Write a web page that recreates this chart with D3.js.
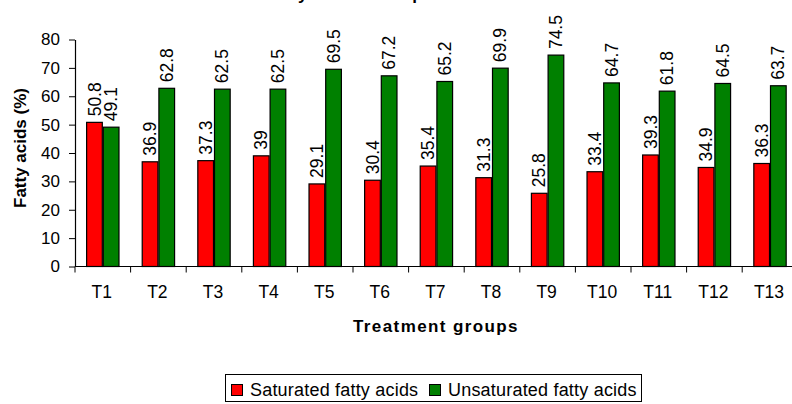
<!DOCTYPE html>
<html>
<head>
<meta charset="utf-8">
<script src="https://cdn.jsdelivr.net/npm/d3@7"></script>
<style>
  html, body { margin: 0; padding: 0; background: #fff; }
  svg { display: block; font-family: "Liberation Sans", Arial, sans-serif; }
</style>
</head>
<body>
<script>
const categories = ["T1","T2","T3","T4","T5","T6","T7","T8","T9","T10","T11","T12","T13"];
const saturated = [50.8,36.9,37.3,39,29.1,30.4,35.4,31.3,25.8,33.4,39.3,34.9,36.3];
const unsaturated = [49.1,62.8,62.5,62.5,69.5,67.2,65.2,69.9,74.5,64.7,61.8,64.5,63.7];
const seriesNames = ["Saturated fatty acids","Unsaturated fatty acids"];
const seriesColors = ["#ff0000","#008000"];
const yTicks = [0,10,20,30,40,50,60,70,80];
const titleText = "Fatty acids in rump of buffalo meat";

const W = 792, H = 404;
const svg = d3.select("body").append("svg").attr("width", W).attr("height", H);

const x0 = d3.scaleBand().domain(categories).range([75, 75 + 13 * 55.6]).padding(0);
const bw = x0.bandwidth();
const x1 = d3.scaleBand().domain(seriesNames).range([bw * 0.2, bw * 0.8]).padding(0);
const y = d3.scaleLinear().domain([0, 80]).range([266.5, 39.5]);

// title (clipped at top, as in the reference)
svg.append("text").attr("x", 408).attr("y", -0.5).attr("text-anchor", "middle")
  .attr("font-size", 17).attr("font-weight", "bold").text(titleText);

const data = categories.map((c, i) => ({cat: c, vals: [saturated[i], unsaturated[i]]}));

const groups = svg.append("g").selectAll("g").data(data).join("g")
  .attr("transform", d => `translate(${x0(d.cat)},0)`);

groups.selectAll("rect").data(d => d.vals.map((v, k) => ({v, k})))
  .join("rect")
  .attr("x", d => x1(seriesNames[d.k]) + 0.5)
  .attr("y", d => y(d.v))
  .attr("width", x1.bandwidth() - 1)
  .attr("height", d => y(0) - y(d.v))
  .attr("fill", d => seriesColors[d.k])
  .attr("stroke", "#000").attr("stroke-width", 1.2);

groups.selectAll("text.val").data(d => d.vals.map((v, k) => ({v, k})))
  .join("text").attr("class", "val")
  .attr("transform", d => `translate(${x1(seriesNames[d.k]) + x1.bandwidth() / 2},${y(d.v) - 6}) rotate(-90)`)
  .attr("dy", "0.35em")
  .attr("font-size", 17.5)
  .attr("text-anchor", "start")
  .text(d => d.v);

// y axis
const yAxis = svg.append("g").attr("transform", "translate(75,0)")
  .call(d3.axisLeft(y).tickValues(yTicks).tickSize(6).tickPadding(9).tickSizeOuter(0));
yAxis.select(".domain").attr("stroke", "#000").attr("stroke-width", 1.2);
yAxis.selectAll(".tick line").attr("stroke", "#000");
yAxis.selectAll(".tick text").attr("font-size", 17).attr("font-family", "Liberation Sans, Arial, sans-serif").attr("fill", "#000");

// x axis
const xAxisG = svg.append("g").attr("transform", `translate(0,${y(0)})`);
xAxisG.append("line").attr("x1", 75).attr("x2", W).attr("y1", 0).attr("y2", 0)
  .attr("stroke", "#000").attr("stroke-width", 1.2);
xAxisG.selectAll("line.tk").data(categories.slice(1)).join("line").attr("class", "tk")
  .attr("x1", d => x0(d)).attr("x2", d => x0(d)).attr("y1", 0).attr("y2", 6).attr("stroke", "#000");
xAxisG.append("line").attr("x1", 75).attr("x2", 75).attr("y1", 0).attr("y2", 6).attr("stroke", "#000");
xAxisG.selectAll("text").data(categories).join("text")
  .attr("x", d => x0(d) + bw / 2 - 1)
  .attr("y", 31)
  .attr("text-anchor", "middle")
  .attr("font-size", 17.5)
  .text(d => d);

// axis titles
svg.append("text").attr("transform", "translate(26,148) rotate(-90)")
  .attr("text-anchor", "middle").attr("font-size", 17).attr("font-weight", "bold")
  .text("Fatty acids (%)");
svg.append("text").attr("x", 436).attr("y", 332)
  .attr("text-anchor", "middle").attr("font-size", 17).attr("font-weight", "bold")
  .attr("letter-spacing", 1.4)
  .text("Treatment groups");

// legend
const lg = svg.append("g");
lg.append("rect").attr("x", 225.5).attr("y", 374.5).attr("width", 416).attr("height", 27)
  .attr("fill", "#fff").attr("stroke", "#000").attr("stroke-width", 1);
const legendX = [231, 429];
seriesNames.forEach((name, k) => {
  lg.append("rect").attr("x", legendX[k] + 0.5).attr("y", 384.5).attr("width", 11).attr("height", 11)
    .attr("fill", seriesColors[k]).attr("stroke", "#000").attr("stroke-width", 1);
  lg.append("text").attr("x", legendX[k] + 19).attr("y", 396)
    .attr("font-size", 18).attr("letter-spacing", 0.2).text(name);
});
</script>
</body>
</html>
